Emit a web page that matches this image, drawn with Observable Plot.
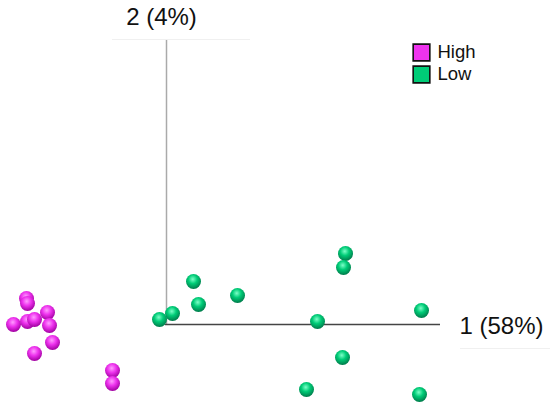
<!DOCTYPE html>
<html><head><meta charset="utf-8">
<script src="https://cdn.jsdelivr.net/npm/d3@7"></script>
<script src="https://cdn.jsdelivr.net/npm/@observablehq/plot@0.6"></script>
<style>body{margin:0;background:#fff;font-family:Arial,"Liberation Sans",sans-serif}</style>
</head><body><div id="chart"></div>
<script>
// PC scores (arbitrary units, origin at axis crossing)
const groups = ["High", "Low"];
const colors = ["#ee33ee", "#00cc77"];
const highPC1 = [-139, -138, -152, -138, -131, -118, -116, -113, -131, -53, -53];
const highPC2 = [27, 22, 1, 4, 6, 13, 0, -17, -28, -45, -58];
const lowPC1 = [180, 178, 28, 72, 33, 7, -6, 152, 256, 177, 141, 254];
const lowPC2 = [72, 58, 44, 30, 21, 12, 6, 4, 15, -32, -64, -69];
const axisLabels = ["1 (58%)", "2 (4%)"];
const axisLen = [275, 285];

const pts = [
  ...highPC1.map((x, i) => ({pc1: x, pc2: highPC2[i], g: "High"})),
  ...lowPC1.map((x, i) => ({pc1: x, pc2: lowPC2[i], g: "Low"}))
];

const plot = Plot.plot({
  width: 550, height: 407,
  margin: 0,
  style: {fontFamily: "Arial, 'Liberation Sans', sans-serif", background: "#fff"},
  x: {domain: [-165, 385], axis: null},
  y: {domain: [-82, 325], axis: null},
  marks: [
    Plot.ruleY([axisLen[1] + 1], {x1: -53, x2: 85, stroke: "#f0f0f0", strokeWidth: 1}),
    Plot.ruleY([-23], {x1: 295, x2: 385, stroke: "#f0f0f0", strokeWidth: 1}),
    Plot.ruleX([1], {y1: 0, y2: axisLen[1], stroke: "#aaa", strokeWidth: 1.5}),
    Plot.ruleY([1], {x1: 0, x2: axisLen[0], stroke: "#444", strokeWidth: 1.5}),
    Plot.text([axisLabels[1]], {x: -4, y: axisLen[1] + 23, fontSize: 24, fill: "#111", textAnchor: "middle"}),
    Plot.text([axisLabels[0]], {x: axisLen[0] + 19, y: -1, fontSize: 24, fill: "#111", textAnchor: "start"}),
    Plot.dot(pts, {x: "pc1", y: "pc2", r: 7.5, fill: d => d.g === "High" ? "url(#gHigh)" : "url(#gLow)", stroke: "none"}),
    // legend
    Plot.dot(groups, {x: 256, y: (d, i) => 273 - i * 22, symbol: "square", r: 9.4, fill: (d, i) => colors[i], stroke: "#111", strokeWidth: 1.6}),
    Plot.text(groups, {x: 272, y: (d, i) => 273 - i * 22, text: d => d, fontSize: 18.5, fill: "#111", textAnchor: "start"})
  ]
});

const svg = d3.select(plot);
const defs = svg.insert("defs", ":first-child");
function grad(id, light, base, dark) {
  const g = defs.append("radialGradient").attr("id", id).attr("cx", "45%").attr("cy", "35%").attr("r", "65%");
  g.append("stop").attr("offset", "0%").attr("stop-color", light);
  g.append("stop").attr("offset", "45%").attr("stop-color", base);
  g.append("stop").attr("offset", "100%").attr("stop-color", dark);
}
grad("gHigh", "#ff9cff", colors[0], "#a000a0");
grad("gLow", "#7dffc8", colors[1], "#007a4a");
document.getElementById("chart").appendChild(plot);
</script>
</body></html>
